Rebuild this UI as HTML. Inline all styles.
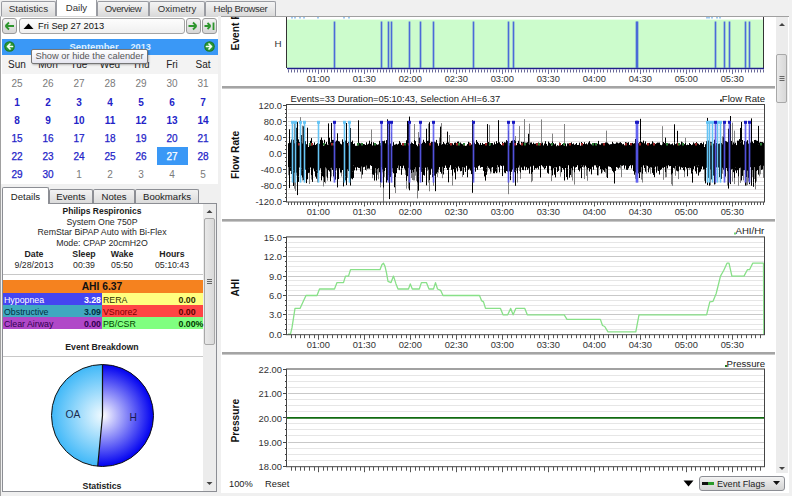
<!DOCTYPE html><html><head><meta charset="utf-8"><style>
*{margin:0;padding:0;box-sizing:border-box}
html,body{width:792px;height:496px;overflow:hidden;background:#f0f0f0;font-family:"Liberation Sans",sans-serif}
.t{position:absolute;line-height:20px;white-space:nowrap}
.b{position:absolute}
</style></head><body>
<div class="b" style="left:1px;top:1px;width:55px;height:15px;background:linear-gradient(#f4f4f4,#e8e8e8 50%,#dadada);border:1px solid #9a9ca2;border-bottom:none;border-radius:2px 2px 0 0"></div>
<div class="t" style="left:-121.5px;width:300px;text-align:center;top:-1.4000000000000004px;font-size:9.9px;font-weight:normal;color:#333;letter-spacing:0px">Statistics</div>
<div class="b" style="left:56px;top:-1px;width:41px;height:18px;background:#fff;border:1px solid #9a9ca2;border-bottom:none;border-top:none"></div>
<div class="t" style="left:-73.5px;width:300px;text-align:center;top:-1.6999999999999993px;font-size:9.6px;font-weight:normal;color:#333;letter-spacing:0px">Daily</div>
<div class="b" style="left:97px;top:1px;width:52px;height:15px;background:linear-gradient(#f4f4f4,#e8e8e8 50%,#dadada);border:1px solid #9a9ca2;border-bottom:none;border-radius:2px 2px 0 0"></div>
<div class="t" style="left:-27.0px;width:300px;text-align:center;top:-1.4000000000000004px;font-size:9.6px;font-weight:normal;color:#333;letter-spacing:-0.45px">Overview</div>
<div class="b" style="left:149px;top:1px;width:56px;height:15px;background:linear-gradient(#f4f4f4,#e8e8e8 50%,#dadada);border:1px solid #9a9ca2;border-bottom:none;border-radius:2px 2px 0 0"></div>
<div class="t" style="left:27.0px;width:300px;text-align:center;top:-1.4000000000000004px;font-size:9.6px;font-weight:normal;color:#333;letter-spacing:0px">Oximetry</div>
<div class="b" style="left:205px;top:1px;width:71px;height:15px;background:linear-gradient(#f4f4f4,#e8e8e8 50%,#dadada);border:1px solid #9a9ca2;border-bottom:none;border-radius:2px 2px 0 0"></div>
<div class="t" style="left:90.5px;width:300px;text-align:center;top:-1.4000000000000004px;font-size:9.6px;font-weight:normal;color:#333;letter-spacing:-0.3px">Help Browser</div>
<div class="b" style="left:0px;top:16px;width:220px;height:480px;background:#fff;border-left:1px solid #a0a0a0;border-top:1px solid #d8d8d8"></div>
<div class="b" style="left:2px;top:18px;width:15px;height:16px;background:linear-gradient(#f4f4f4,#e4e4e4 50%,#d6d6d6);border:1px solid #9a9a9a;border-radius:3px"><svg width="15" height="16" style="position:absolute;left:-1px;top:-1px"><path d="M12 8 H3.5 M3.5 8 L7 4.5 M3.5 8 L7 11.5" stroke="#2e962e" stroke-width="1.8" fill="none"/></svg></div>
<div class="b" style="left:19px;top:18px;width:166px;height:16px;background:linear-gradient(#fdfdfd,#f0f0f0);border:1px solid #a4a4a4;border-radius:3px"></div>
<svg class="b" style="left:22px;top:21px" width="14" height="10"><path d="M1.5 8 L6.5 2.5 L11.5 8 Z" fill="#000"/></svg>
<div class="t" style="left:38px;top:16.4px;font-size:9.3px;font-weight:normal;color:#111;">Fri Sep 27 2013</div>
<div class="b" style="left:186px;top:18px;width:15px;height:16px;background:linear-gradient(#f4f4f4,#e4e4e4 50%,#d6d6d6);border:1px solid #9a9a9a;border-radius:3px"><svg width="15" height="16" style="position:absolute;left:-1px;top:-1px"><path d="M2.5 8 H10.5 M10.5 8 L7 4.5 M10.5 8 L7 11.5" stroke="#2e962e" stroke-width="1.8" fill="none"/></svg></div>
<div class="b" style="left:202px;top:18px;width:15px;height:16px;background:linear-gradient(#f4f4f4,#e4e4e4 50%,#d6d6d6);border:1px solid #9a9a9a;border-radius:3px"><svg width="15" height="16" style="position:absolute;left:-1px;top:-1px"><path d="M2.5 8 H8.5 M8.5 8 L5.5 5 M8.5 8 L5.5 11 M11.5 4.5 V12" stroke="#2e962e" stroke-width="1.8" fill="none"/></svg></div>
<div class="b" style="left:2px;top:39px;width:216px;height:15.5px;background:#3a98f6"></div>
<svg class="b" style="left:2.5px;top:39.8px" width="13" height="13"><circle cx="6.5" cy="6.5" r="5.3" fill="#1d7a25"/><circle cx="6.5" cy="6.5" r="4.2" fill="#2c9a36"/><path d="M9.5 6.5 H4.5 M4.5 6.5 L7 4 M4.5 6.5 L7 9" stroke="#f4fff4" stroke-width="1.7" fill="none" stroke-linecap="round"/></svg>
<svg class="b" style="left:202.5px;top:39.9px" width="13" height="13"><circle cx="6.5" cy="6.5" r="5.3" fill="#1d7a25"/><circle cx="6.5" cy="6.5" r="4.2" fill="#2c9a36"/><path d="M3.5 6.5 H8.5 M8.5 6.5 L6 4 M8.5 6.5 L6 9" stroke="#f4fff4" stroke-width="1.7" fill="none" stroke-linecap="round"/></svg>
<div class="t" style="left:69.5px;top:36.5px;font-size:9.5px;font-weight:bold;color:#dcefff;">September</div>
<div class="t" style="left:130.5px;top:36.5px;font-size:9.2px;font-weight:bold;color:#dcefff;">2013</div>
<div class="b" style="left:2px;top:54.5px;width:216px;height:19px;background:#f3f3f3"></div>
<div class="t" style="left:-133px;width:300px;text-align:center;top:55.3px;font-size:10px;font-weight:normal;color:#222;">Sun</div>
<div class="t" style="left:-102px;width:300px;text-align:center;top:55.3px;font-size:10px;font-weight:normal;color:#222;">Mon</div>
<div class="t" style="left:-71px;width:300px;text-align:center;top:55.3px;font-size:10px;font-weight:normal;color:#222;">Tue</div>
<div class="t" style="left:-40px;width:300px;text-align:center;top:55.3px;font-size:10px;font-weight:normal;color:#222;">Wed</div>
<div class="t" style="left:-9px;width:300px;text-align:center;top:55.3px;font-size:10px;font-weight:normal;color:#222;">Thu</div>
<div class="t" style="left:22px;width:300px;text-align:center;top:55.3px;font-size:10px;font-weight:normal;color:#222;">Fri</div>
<div class="t" style="left:53px;width:300px;text-align:center;top:55.3px;font-size:10px;font-weight:normal;color:#222;">Sat</div>
<div class="b" style="left:157px;top:147px;width:31px;height:18px;background:#3a98f6"></div>
<div class="t" style="left:-133px;width:300px;text-align:center;top:74.4px;font-size:10px;font-weight:normal;color:#7a7a7a;">25</div>
<div class="t" style="left:-102px;width:300px;text-align:center;top:74.4px;font-size:10px;font-weight:normal;color:#7a7a7a;">26</div>
<div class="t" style="left:-71px;width:300px;text-align:center;top:74.4px;font-size:10px;font-weight:normal;color:#7a7a7a;">27</div>
<div class="t" style="left:-40px;width:300px;text-align:center;top:74.4px;font-size:10px;font-weight:normal;color:#7a7a7a;">28</div>
<div class="t" style="left:-9px;width:300px;text-align:center;top:74.4px;font-size:10px;font-weight:normal;color:#7a7a7a;">29</div>
<div class="t" style="left:22px;width:300px;text-align:center;top:74.4px;font-size:10px;font-weight:normal;color:#7a7a7a;">30</div>
<div class="t" style="left:53px;width:300px;text-align:center;top:74.4px;font-size:10px;font-weight:normal;color:#7a7a7a;">31</div>
<div class="t" style="left:-133px;width:300px;text-align:center;top:92.9px;font-size:10px;font-weight:bold;color:#2424c8;">1</div>
<div class="t" style="left:-102px;width:300px;text-align:center;top:92.9px;font-size:10px;font-weight:bold;color:#2424c8;">2</div>
<div class="t" style="left:-71px;width:300px;text-align:center;top:92.9px;font-size:10px;font-weight:bold;color:#2424c8;">3</div>
<div class="t" style="left:-40px;width:300px;text-align:center;top:92.9px;font-size:10px;font-weight:bold;color:#2424c8;">4</div>
<div class="t" style="left:-9px;width:300px;text-align:center;top:92.9px;font-size:10px;font-weight:bold;color:#2424c8;">5</div>
<div class="t" style="left:22px;width:300px;text-align:center;top:92.9px;font-size:10px;font-weight:bold;color:#2424c8;">6</div>
<div class="t" style="left:53px;width:300px;text-align:center;top:92.9px;font-size:10px;font-weight:bold;color:#2424c8;">7</div>
<div class="t" style="left:-133px;width:300px;text-align:center;top:111.0px;font-size:10px;font-weight:bold;color:#2424c8;">8</div>
<div class="t" style="left:-102px;width:300px;text-align:center;top:111.0px;font-size:10px;font-weight:bold;color:#2424c8;">9</div>
<div class="t" style="left:-71px;width:300px;text-align:center;top:111.0px;font-size:10px;font-weight:bold;color:#2424c8;">10</div>
<div class="t" style="left:-40px;width:300px;text-align:center;top:111.0px;font-size:10px;font-weight:bold;color:#2424c8;">11</div>
<div class="t" style="left:-9px;width:300px;text-align:center;top:111.0px;font-size:10px;font-weight:bold;color:#2424c8;">12</div>
<div class="t" style="left:22px;width:300px;text-align:center;top:111.0px;font-size:10px;font-weight:bold;color:#2424c8;">13</div>
<div class="t" style="left:53px;width:300px;text-align:center;top:111.0px;font-size:10px;font-weight:bold;color:#2424c8;">14</div>
<div class="t" style="left:-133px;width:300px;text-align:center;top:129.2px;font-size:10px;font-weight:normal;color:#2424c8;-webkit-text-stroke:0.25px #2424c8">15</div>
<div class="t" style="left:-102px;width:300px;text-align:center;top:129.2px;font-size:10px;font-weight:normal;color:#2424c8;-webkit-text-stroke:0.25px #2424c8">16</div>
<div class="t" style="left:-71px;width:300px;text-align:center;top:129.2px;font-size:10px;font-weight:normal;color:#2424c8;-webkit-text-stroke:0.25px #2424c8">17</div>
<div class="t" style="left:-40px;width:300px;text-align:center;top:129.2px;font-size:10px;font-weight:normal;color:#2424c8;-webkit-text-stroke:0.25px #2424c8">18</div>
<div class="t" style="left:-9px;width:300px;text-align:center;top:129.2px;font-size:10px;font-weight:normal;color:#2424c8;-webkit-text-stroke:0.25px #2424c8">19</div>
<div class="t" style="left:22px;width:300px;text-align:center;top:129.2px;font-size:10px;font-weight:normal;color:#2424c8;-webkit-text-stroke:0.25px #2424c8">20</div>
<div class="t" style="left:53px;width:300px;text-align:center;top:129.2px;font-size:10px;font-weight:normal;color:#2424c8;-webkit-text-stroke:0.25px #2424c8">21</div>
<div class="t" style="left:-133px;width:300px;text-align:center;top:147.2px;font-size:10px;font-weight:normal;color:#2424c8;-webkit-text-stroke:0.25px #2424c8">22</div>
<div class="t" style="left:-102px;width:300px;text-align:center;top:147.2px;font-size:10px;font-weight:normal;color:#2424c8;-webkit-text-stroke:0.25px #2424c8">23</div>
<div class="t" style="left:-71px;width:300px;text-align:center;top:147.2px;font-size:10px;font-weight:normal;color:#2424c8;-webkit-text-stroke:0.25px #2424c8">24</div>
<div class="t" style="left:-40px;width:300px;text-align:center;top:147.2px;font-size:10px;font-weight:normal;color:#2424c8;-webkit-text-stroke:0.25px #2424c8">25</div>
<div class="t" style="left:-9px;width:300px;text-align:center;top:147.2px;font-size:10px;font-weight:normal;color:#2424c8;-webkit-text-stroke:0.25px #2424c8">26</div>
<div class="t" style="left:22px;width:300px;text-align:center;top:147.2px;font-size:10px;font-weight:normal;color:#fff;-webkit-text-stroke:0.25px #fff">27</div>
<div class="t" style="left:53px;width:300px;text-align:center;top:147.2px;font-size:10px;font-weight:normal;color:#2424c8;-webkit-text-stroke:0.25px #2424c8">28</div>
<div class="t" style="left:-133px;width:300px;text-align:center;top:165.4px;font-size:10px;font-weight:normal;color:#2424c8;-webkit-text-stroke:0.25px #2424c8">29</div>
<div class="t" style="left:-102px;width:300px;text-align:center;top:165.4px;font-size:10px;font-weight:normal;color:#2424c8;-webkit-text-stroke:0.25px #2424c8">30</div>
<div class="t" style="left:-71px;width:300px;text-align:center;top:165.4px;font-size:10px;font-weight:normal;color:#7a7a7a;">1</div>
<div class="t" style="left:-40px;width:300px;text-align:center;top:165.4px;font-size:10px;font-weight:normal;color:#7a7a7a;">2</div>
<div class="t" style="left:-9px;width:300px;text-align:center;top:165.4px;font-size:10px;font-weight:normal;color:#7a7a7a;">3</div>
<div class="t" style="left:22px;width:300px;text-align:center;top:165.4px;font-size:10px;font-weight:normal;color:#7a7a7a;">4</div>
<div class="t" style="left:53px;width:300px;text-align:center;top:165.4px;font-size:10px;font-weight:normal;color:#7a7a7a;">5</div>
<div class="b" style="left:31px;top:48.5px;width:117px;height:15px;background:linear-gradient(#ffffff,#e6e6f0);border:1px solid #767676;border-radius:2px;box-shadow:1px 1px 2px rgba(0,0,0,.25)"></div>
<div class="t" style="left:35.5px;top:45.8px;font-size:9.3px;font-weight:normal;color:#575757;">Show or hide the calender</div>
<div class="b" style="left:1px;top:184px;width:219px;height:312px;background:#f0f0f0"></div>
<div class="b" style="left:2px;top:187px;width:47px;height:17px;background:#fff;border:1px solid #8c8e94;border-bottom:none;border-radius:2px 2px 0 0;z-index:2"></div>
<div class="t" style="left:2px;width:47px;text-align:center;top:187px;font-size:9.6px;color:#222;z-index:3">Details</div>
<div class="b" style="left:49px;top:189px;width:44px;height:15px;background:linear-gradient(#f2f2f2,#e6e6e6 50%,#d9d9d9);border:1px solid #8c8e94;border-bottom:none;border-radius:2px 2px 0 0"></div>
<div class="t" style="left:49px;width:44px;text-align:center;top:187px;font-size:9.6px;color:#222">Events</div>
<div class="b" style="left:93px;top:189px;width:42px;height:15px;background:linear-gradient(#f2f2f2,#e6e6e6 50%,#d9d9d9);border:1px solid #8c8e94;border-bottom:none;border-radius:2px 2px 0 0"></div>
<div class="t" style="left:93px;width:42px;text-align:center;top:187px;font-size:9.6px;color:#222">Notes</div>
<div class="b" style="left:135px;top:189px;width:64px;height:15px;background:linear-gradient(#f2f2f2,#e6e6e6 50%,#d9d9d9);border:1px solid #8c8e94;border-bottom:none;border-radius:2px 2px 0 0"></div>
<div class="t" style="left:135px;width:64px;text-align:center;top:187px;font-size:9.6px;color:#222">Bookmarks</div>
<div class="b" style="left:2px;top:203px;width:215px;height:289px;background:#fff;border:1px solid #8c8e94"></div>
<div class="b" style="left:203px;top:204px;width:13px;height:287px;background:#ececec"></div>
<svg class="b" style="left:205px;top:207px" width="9" height="8"><path d="M1.5 6 L4.5 3 L7.5 6Z" fill="#444"/></svg>
<div class="b" style="left:204px;top:218px;width:11px;height:127px;background:linear-gradient(90deg,#e8e8e8,#dadada);border:1px solid #a8a8a8;border-radius:2px"></div>
<svg class="b" style="left:205px;top:278px" width="9" height="7"><path d="M2 1.5H7M2 3.5H7M2 5.5H7" stroke="#666" stroke-width="1"/></svg>
<svg class="b" style="left:205px;top:480px" width="9" height="8"><path d="M1.5 2 L4.5 5 L7.5 2Z" fill="#444"/></svg>
<div class="t" style="left:-48px;width:300px;text-align:center;top:200.5px;font-size:8.5px;font-weight:bold;color:#1a1a1a;">Philips Respironics</div>
<div class="t" style="left:-48px;width:300px;text-align:center;top:211.5px;font-size:8.75px;font-weight:normal;color:#262626;">System One 750P</div>
<div class="t" style="left:-48px;width:300px;text-align:center;top:222.0px;font-size:8.75px;font-weight:normal;color:#262626;">RemStar BiPAP Auto with Bi-Flex</div>
<div class="t" style="left:-48px;width:300px;text-align:center;top:233.0px;font-size:8.75px;font-weight:normal;color:#262626;">Mode: CPAP 20cmH2O</div>
<div class="t" style="left:-116px;width:300px;text-align:center;top:243.5px;font-size:8.75px;font-weight:bold;color:#222;">Date</div>
<div class="t" style="left:-66px;width:300px;text-align:center;top:243.5px;font-size:8.75px;font-weight:bold;color:#222;">Sleep</div>
<div class="t" style="left:-28px;width:300px;text-align:center;top:243.5px;font-size:8.75px;font-weight:bold;color:#222;">Wake</div>
<div class="t" style="left:22px;width:300px;text-align:center;top:243.5px;font-size:8.75px;font-weight:bold;color:#222;">Hours</div>
<div class="t" style="left:-116px;width:300px;text-align:center;top:254.7px;font-size:8.75px;font-weight:normal;color:#262626;">9/28/2013</div>
<div class="t" style="left:-66px;width:300px;text-align:center;top:254.7px;font-size:8.75px;font-weight:normal;color:#262626;">00:39</div>
<div class="t" style="left:-28px;width:300px;text-align:center;top:254.7px;font-size:8.75px;font-weight:normal;color:#262626;">05:50</div>
<div class="t" style="left:22px;width:300px;text-align:center;top:254.7px;font-size:8.75px;font-weight:normal;color:#262626;">05:10:43</div>
<div class="b" style="left:3px;top:274px;width:200px;height:1px;background:#c8c8c8"></div>
<div class="b" style="left:3px;top:280px;width:200px;height:13px;background:#f5821f"></div>
<div class="t" style="left:-48px;width:300px;text-align:center;top:276.5px;font-size:10.3px;font-weight:bold;color:#111;">AHI 6.37</div>
<div class="b" style="left:3px;top:293px;width:99px;height:12px;background:#4545f0"></div>
<div class="b" style="left:102px;top:293px;width:101px;height:12px;background:#ffff80"></div>
<div class="t" style="left:4px;top:289.6px;font-size:8.8px;font-weight:normal;color:#fff;">Hypopnea</div>
<div class="t" style="right:691px;top:289.6px;font-size:8.8px;font-weight:bold;color:#fff;">3.28</div>
<div class="t" style="left:103px;top:289.6px;font-size:8.8px;font-weight:normal;color:#303000;">RERA</div>
<div class="t" style="left:178.5px;top:289.6px;font-size:8.8px;font-weight:bold;color:#303000;">0.00</div>
<div class="b" style="left:3px;top:305px;width:99px;height:12px;background:#40a8c0"></div>
<div class="b" style="left:102px;top:305px;width:101px;height:12px;background:#ff4545"></div>
<div class="t" style="left:4px;top:301.6px;font-size:8.8px;font-weight:normal;color:#003040;">Obstructive</div>
<div class="t" style="right:691px;top:301.6px;font-size:8.8px;font-weight:bold;color:#003040;">3.09</div>
<div class="t" style="left:103px;top:301.6px;font-size:8.8px;font-weight:normal;color:#800000;">VSnore2</div>
<div class="t" style="left:178.5px;top:301.6px;font-size:8.8px;font-weight:bold;color:#600000;">0.00</div>
<div class="b" style="left:3px;top:317px;width:99px;height:12px;background:#b048c8"></div>
<div class="b" style="left:102px;top:317px;width:101px;height:12px;background:#80ff80"></div>
<div class="t" style="left:4px;top:313.6px;font-size:8.8px;font-weight:normal;color:#300050;">Clear Airway</div>
<div class="t" style="right:691px;top:313.6px;font-size:8.8px;font-weight:bold;color:#300050;">0.00</div>
<div class="t" style="left:103px;top:313.6px;font-size:8.8px;font-weight:normal;color:#004400;">PB/CSR</div>
<div class="t" style="left:178.5px;top:313.6px;font-size:8.8px;font-weight:bold;color:#003800;">0.00%</div>
<div class="t" style="left:-48px;width:300px;text-align:center;top:336.8px;font-size:8.75px;font-weight:bold;color:#222;">Event Breakdown</div>
<div class="b" style="left:3px;top:356px;width:200px;height:1px;background:#c8c8c8"></div>
<div class="t" style="left:-48px;width:300px;text-align:center;top:476.0px;font-size:8.75px;font-weight:bold;color:#222;">Statistics</div>
<svg class="b" style="left:0;top:0" width="220" height="496">
<defs>
<radialGradient id="gH" cx="102.5" cy="415.5" r="51" gradientUnits="userSpaceOnUse"><stop offset="0" stop-color="#ffffff"/><stop offset="1" stop-color="#0000f0"/></radialGradient>
<radialGradient id="gO" cx="102.5" cy="415.5" r="51" gradientUnits="userSpaceOnUse"><stop offset="0" stop-color="#f0faff"/><stop offset="1" stop-color="#40b8f8"/></radialGradient>
</defs>
<path d="M102.5 415.5 L102.5 364.5 A51 51 0 1 1 97.70 466.27 Z" fill="url(#gH)"/>
<path d="M102.5 415.5 L97.70 466.27 A51 51 0 0 1 102.5 364.5 Z" fill="url(#gO)"/>
<circle cx="102.5" cy="415.5" r="51" fill="none" stroke="#111" stroke-width="1"/>
<path d="M102.5 364.5 L102.5 415.5 L97.70 466.27" fill="none" stroke="#111" stroke-width="1.2"/>
</svg>
<div class="t" style="left:65.5px;top:404.5px;font-size:10.3px;font-weight:normal;color:#1a2a50;">OA</div>
<div class="t" style="left:129.5px;top:407.6px;font-size:10.3px;font-weight:normal;color:#1a1a50;">H</div>
<div class="b" style="left:218px;top:16px;width:3px;height:480px;background:#f0f0f0"></div>
<div class="b" style="left:221px;top:16px;width:568px;height:477px;background:#fff;border-top:1px solid #a0a0a0"></div>
<div class="b" style="left:776px;top:17px;width:12px;height:456px;background:#ececec"></div>
<svg class="b" style="left:777px;top:20px" width="10" height="8"><path d="M2 6 L5 3 L8 6Z" fill="#444"/></svg>
<div class="b" style="left:776px;top:53.5px;width:11px;height:49px;background:linear-gradient(90deg,#e8e8e8,#d8d8d8);border:1px solid #a8a8a8;border-radius:2px"></div>
<svg class="b" style="left:776.5px;top:75px" width="10" height="7"><path d="M2.5 1.5H7.5M2.5 3.5H7.5M2.5 5.5H7.5" stroke="#666" stroke-width="1"/></svg>
<svg class="b" style="left:777px;top:465px" width="10" height="8"><path d="M2 2 L5 5 L8 2Z" fill="#444"/></svg>
<div class="b" style="left:221px;top:17px;width:555px;height:476px;overflow:hidden"><svg style="position:absolute;left:-221px;top:-17px" width="792" height="496"><rect x="287" y="19.6" width="477" height="48.4" fill="#ccfccc"/><path d="M286.5 17 V68" stroke="#333" stroke-width="1" fill="none"/><path d="M763.5 17 V68" stroke="#333" stroke-width="1" fill="none"/><path d="M287 68.5 H764" stroke="#20208a" stroke-width="1.6" fill="none"/><path d="M334.5 21.5 V68" stroke="#4a6ad8" stroke-width="1.7"/><path d="M381.5 21.5 V68" stroke="#4a6ad8" stroke-width="1.7"/><path d="M388.5 21.5 V68" stroke="#4a6ad8" stroke-width="1.7"/><path d="M391.5 21.5 V68" stroke="#4a6ad8" stroke-width="1.7"/><path d="M409.5 21.5 V68" stroke="#4a6ad8" stroke-width="1.7"/><path d="M420.5 21.5 V68" stroke="#4a6ad8" stroke-width="1.7"/><path d="M433.5 21.5 V68" stroke="#4a6ad8" stroke-width="1.7"/><path d="M473.5 21.5 V68" stroke="#4a6ad8" stroke-width="1.7"/><path d="M508.5 21.5 V68" stroke="#4a6ad8" stroke-width="1.7"/><path d="M513.5 21.5 V68" stroke="#4a6ad8" stroke-width="1.7"/><path d="M636.5 21.5 V68" stroke="#4a6ad8" stroke-width="1.7"/><path d="M637.5 21.5 V68" stroke="#4a6ad8" stroke-width="1.7"/><path d="M715.5 21.5 V68" stroke="#4a6ad8" stroke-width="1.7"/><path d="M724.5 21.5 V68" stroke="#4a6ad8" stroke-width="1.7"/><path d="M729.5 21.5 V68" stroke="#4a6ad8" stroke-width="1.7"/><path d="M745.5 21.5 V68" stroke="#4a6ad8" stroke-width="1.7"/><path d="M749.5 21.5 V68" stroke="#4a6ad8" stroke-width="1.7"/><rect x="291" y="17" width="2" height="1.5" fill="#9cc8f0"/><rect x="294" y="17" width="2" height="1.5" fill="#9cc8f0"/><rect x="299" y="17" width="2" height="1.5" fill="#9cc8f0"/><rect x="303" y="17" width="2" height="1.5" fill="#9cc8f0"/><rect x="317" y="17" width="2" height="1.5" fill="#9cc8f0"/><rect x="343" y="17" width="2" height="1.5" fill="#9cc8f0"/><rect x="348" y="17" width="2" height="1.5" fill="#9cc8f0"/><rect x="706" y="17" width="2" height="1.5" fill="#9cc8f0"/><rect x="708" y="17" width="2" height="1.5" fill="#9cc8f0"/><rect x="711" y="17" width="2" height="1.5" fill="#9cc8f0"/><rect x="716" y="17" width="2" height="1.5" fill="#9cc8f0"/><rect x="719" y="17" width="2" height="1.5" fill="#9cc8f0"/><path d="M288.5 69.5 v3 M291.5 69.5 v3 M294.5 69.5 v3 M297.5 69.5 v3 M300.5 69.5 v3 M303.5 69.5 v3 M306.5 69.5 v3 M309.5 69.5 v3 M312.5 69.5 v3 M315.5 69.5 v3 M318.5 69.5 v4.5 M321.5 69.5 v3 M324.5 69.5 v3 M327.5 69.5 v3 M331.5 69.5 v3 M334.5 69.5 v3 M337.5 69.5 v3 M340.5 69.5 v3 M343.5 69.5 v3 M346.5 69.5 v3 M349.5 69.5 v3 M352.5 69.5 v3 M355.5 69.5 v3 M358.5 69.5 v3 M361.5 69.5 v3 M364.5 69.5 v4.5 M367.5 69.5 v3 M370.5 69.5 v3 M373.5 69.5 v3 M377.5 69.5 v3 M380.5 69.5 v3 M383.5 69.5 v3 M386.5 69.5 v3 M389.5 69.5 v3 M392.5 69.5 v3 M395.5 69.5 v3 M398.5 69.5 v3 M401.5 69.5 v3 M404.5 69.5 v3 M407.5 69.5 v3 M410.5 69.5 v4.5 M413.5 69.5 v3 M416.5 69.5 v3 M419.5 69.5 v3 M423.5 69.5 v3 M426.5 69.5 v3 M429.5 69.5 v3 M432.5 69.5 v3 M435.5 69.5 v3 M438.5 69.5 v3 M441.5 69.5 v3 M444.5 69.5 v3 M447.5 69.5 v3 M450.5 69.5 v3 M453.5 69.5 v3 M456.5 69.5 v4.5 M459.5 69.5 v3 M462.5 69.5 v3 M465.5 69.5 v3 M469.5 69.5 v3 M472.5 69.5 v3 M475.5 69.5 v3 M478.5 69.5 v3 M481.5 69.5 v3 M484.5 69.5 v3 M487.5 69.5 v3 M490.5 69.5 v3 M493.5 69.5 v3 M496.5 69.5 v3 M499.5 69.5 v3 M502.5 69.5 v4.5 M505.5 69.5 v3 M508.5 69.5 v3 M511.5 69.5 v3 M515.5 69.5 v3 M518.5 69.5 v3 M521.5 69.5 v3 M524.5 69.5 v3 M527.5 69.5 v3 M530.5 69.5 v3 M533.5 69.5 v3 M536.5 69.5 v3 M539.5 69.5 v3 M542.5 69.5 v3 M545.5 69.5 v3 M548.5 69.5 v4.5 M551.5 69.5 v3 M554.5 69.5 v3 M557.5 69.5 v3 M561.5 69.5 v3 M564.5 69.5 v3 M567.5 69.5 v3 M570.5 69.5 v3 M573.5 69.5 v3 M576.5 69.5 v3 M579.5 69.5 v3 M582.5 69.5 v3 M585.5 69.5 v3 M588.5 69.5 v3 M591.5 69.5 v3 M594.5 69.5 v4.5 M597.5 69.5 v3 M600.5 69.5 v3 M603.5 69.5 v3 M607.5 69.5 v3 M610.5 69.5 v3 M613.5 69.5 v3 M616.5 69.5 v3 M619.5 69.5 v3 M622.5 69.5 v3 M625.5 69.5 v3 M628.5 69.5 v3 M631.5 69.5 v3 M634.5 69.5 v3 M637.5 69.5 v3 M640.5 69.5 v4.5 M643.5 69.5 v3 M646.5 69.5 v3 M649.5 69.5 v3 M653.5 69.5 v3 M656.5 69.5 v3 M659.5 69.5 v3 M662.5 69.5 v3 M665.5 69.5 v3 M668.5 69.5 v3 M671.5 69.5 v3 M674.5 69.5 v3 M677.5 69.5 v3 M680.5 69.5 v3 M683.5 69.5 v3 M686.5 69.5 v4.5 M689.5 69.5 v3 M692.5 69.5 v3 M695.5 69.5 v3 M699.5 69.5 v3 M702.5 69.5 v3 M705.5 69.5 v3 M708.5 69.5 v3 M711.5 69.5 v3 M714.5 69.5 v3 M717.5 69.5 v3 M720.5 69.5 v3 M723.5 69.5 v3 M726.5 69.5 v3 M729.5 69.5 v3 M732.5 69.5 v4.5 M735.5 69.5 v3 M738.5 69.5 v3 M741.5 69.5 v3 M745.5 69.5 v3 M748.5 69.5 v3 M751.5 69.5 v3 M754.5 69.5 v3 M757.5 69.5 v3 M760.5 69.5 v3 M763.5 69.5 v3" stroke="#6a6a9a" stroke-width="1"/><text x="318.3" y="82.4" text-anchor="middle" font-size="9.3" fill="#333">01:00</text><text x="364.3" y="82.4" text-anchor="middle" font-size="9.3" fill="#333">01:30</text><text x="410.3" y="82.4" text-anchor="middle" font-size="9.3" fill="#333">02:00</text><text x="456.3" y="82.4" text-anchor="middle" font-size="9.3" fill="#333">02:30</text><text x="502.3" y="82.4" text-anchor="middle" font-size="9.3" fill="#333">03:00</text><text x="548.3" y="82.4" text-anchor="middle" font-size="9.3" fill="#333">03:30</text><text x="594.3" y="82.4" text-anchor="middle" font-size="9.3" fill="#333">04:00</text><text x="640.3" y="82.4" text-anchor="middle" font-size="9.3" fill="#333">04:30</text><text x="686.3" y="82.4" text-anchor="middle" font-size="9.3" fill="#333">05:00</text><text x="732.3" y="82.4" text-anchor="middle" font-size="9.3" fill="#333">05:30</text><text x="281.5" y="46.8" text-anchor="end" font-size="9.8" fill="#333">H</text><rect x="222" y="86" width="553" height="2.6" fill="#a4a4a4"/><text x="290.5" y="101.8" font-size="9.4" fill="#222">Events=33 Duration=05:10:43, Selection AHI=6.37</text><text x="765" y="102" text-anchor="end" font-size="9.6" fill="#222">Flow Rate</text><rect x="720" y="99.5" width="2" height="2" fill="#333"/><path d="M288 197.5 H764 M288 193.5 H764 M288 189.5 H764 M288 181.5 H764 M288 177.5 H764 M288 173.5 H764 M288 165.5 H764 M288 161.5 H764 M288 157.5 H764 M288 149.5 H764 M288 145.5 H764 M288 141.5 H764 M288 133.5 H764 M288 129.5 H764 M288 125.5 H764 M288 117.5 H764 M288 113.5 H764 M288 109.5 H764" stroke="#e8e4e4" stroke-width="1"/><path d="M288 185.5 H764 M288 169.5 H764 M288 153.5 H764 M288 137.5 H764 M288 121.5 H764" stroke="#cfcfcf" stroke-width="1"/><path d="M283 201.5 h4 M285 197.5 h2 M285 193.5 h2 M285 189.5 h2 M283 185.5 h4 M285 181.5 h2 M285 177.5 h2 M285 173.5 h2 M283 169.5 h4 M285 165.5 h2 M285 161.5 h2 M285 157.5 h2 M283 153.5 h4 M285 149.5 h2 M285 145.5 h2 M285 141.5 h2 M283 137.5 h4 M285 133.5 h2 M285 129.5 h2 M285 125.5 h2 M283 121.5 h4 M285 117.5 h2 M285 113.5 h2 M285 109.5 h2 M283 105.5 h4" stroke="#444" stroke-width="1"/><text x="282" y="205.1" text-anchor="end" font-size="9.4" fill="#333">-120.0</text><text x="282" y="189.0" text-anchor="end" font-size="9.4" fill="#333">-80.0</text><text x="282" y="172.9" text-anchor="end" font-size="9.4" fill="#333">-40.0</text><text x="282" y="156.8" text-anchor="end" font-size="9.4" fill="#333">0.0</text><text x="282" y="140.8" text-anchor="end" font-size="9.4" fill="#333">40.0</text><text x="282" y="124.7" text-anchor="end" font-size="9.4" fill="#333">80.0</text><text x="282" y="108.6" text-anchor="end" font-size="9.4" fill="#333">120.0</text><path d="M288.5 167.3 V175.2 M289.5 168.5 V179.3 M294.5 123.1 V188.7 M294.5 172.7 V184.4 M295.5 179.2 V191.0 M296.5 172.8 V175.6 M300.5 117.1 V139.2 M302.5 125.7 V180.5 M303.5 168.5 V170.8 M309.5 172.8 V184.0 M311.5 175.4 V179.6 M317.5 173.0 V182.3 M323.5 177.5 V186.4 M325.5 167.6 V183.4 M326.5 168.7 V176.6 M327.5 177.9 V180.7 M331.5 167.9 V176.6 M334.5 168.7 V171.9 M336.5 168.3 V170.3 M337.5 173.8 V184.0 M341.5 172.7 V176.5 M346.5 167.4 V176.6 M347.5 169.5 V177.9 M361.5 166.7 V178.6 M366.5 165.7 V170.7 M371.5 129.5 V141.9 M372.5 174.5 V178.2 M375.5 168.1 V172.9 M377.5 169.2 V174.7 M378.5 168.0 V179.3 M380.5 182.3 V187.4 M382.5 169.6 V172.4 M383.5 187.7 V202.8 M384.5 171.0 V176.9 M389.5 177.7 V183.2 M391.5 132.4 V141.2 M392.5 168.5 V171.9 M395.5 177.2 V193.1 M398.5 165.7 V169.7 M405.5 170.6 V174.9 M406.5 180.9 V188.7 M408.5 122.6 V188.6 M409.5 168.8 V184.0 M411.5 173.0 V178.1 M412.5 170.2 V180.0 M413.5 172.5 V180.4 M414.5 124.1 V180.4 M415.5 167.5 V175.7 M416.5 171.8 V180.9 M417.5 182.6 V198.4 M418.5 132.1 V143.8 M426.5 175.6 V185.8 M427.5 167.5 V170.8 M428.5 123.7 V182.6 M429.5 127.5 V191.3 M433.5 176.2 V186.0 M437.5 172.0 V177.0 M438.5 169.6 V172.8 M439.5 137.3 V143.1 M441.5 123.1 V144.6 M442.5 166.9 V178.2 M449.5 135.0 V143.8 M452.5 175.8 V185.5 M462.5 167.2 V176.9 M472.5 174.8 V182.7 M487.5 166.3 V171.6 M489.5 124.9 V145.6 M490.5 171.6 V173.7 M491.5 167.8 V172.4 M497.5 165.1 V172.5 M508.5 179.3 V194.2 M515.5 136.1 V141.1 M516.5 168.1 V170.8 M517.5 173.6 V182.5 M519.5 126.1 V143.5 M519.5 165.7 V171.1 M520.5 172.7 V178.8 M524.5 119.1 V142.6 M529.5 123.7 V144.5 M531.5 174.1 V182.2 M532.5 172.1 V180.8 M541.5 119.4 V143.3 M551.5 170.6 V181.2 M552.5 133.6 V141.4 M560.5 166.8 V176.7 M564.5 124.0 V146.0 M571.5 168.3 V177.1 M572.5 170.5 V180.6 M574.5 172.5 V184.6 M583.5 165.4 V167.6 M584.5 167.5 V179.1 M586.5 167.3 V175.8 M587.5 169.7 V180.8 M598.5 167.7 V175.4 M602.5 169.4 V172.4 M605.5 168.3 V172.7 M606.5 130.6 V142.3 M606.5 169.0 V177.1 M620.5 165.0 V168.6 M621.5 165.9 V177.2 M635.5 172.6 V178.8 M641.5 167.3 V179.6 M642.5 173.8 V182.5 M646.5 165.7 V173.5 M650.5 167.0 V173.8 M657.5 166.6 V170.5 M662.5 126.2 V144.2 M663.5 168.4 V179.8 M665.5 172.1 V177.4 M666.5 165.9 V177.2 M671.5 174.7 V184.3 M672.5 173.5 V185.9 M675.5 166.0 V175.8 M678.5 171.5 V179.1 M684.5 171.6 V177.2 M685.5 137.8 V143.0 M689.5 167.8 V170.1 M704.5 169.5 V180.9 M710.5 169.7 V185.2 M715.5 175.9 V184.2 M722.5 136.4 V144.2 M722.5 167.9 V173.7 M723.5 121.4 V137.1 M727.5 171.4 V185.6 M732.5 122.6 V181.6 M732.5 168.9 V178.4 M734.5 130.6 V184.1 M738.5 176.6 V185.9 M740.5 167.8 V182.9 M743.5 170.5 V180.4 M746.5 177.0 V185.8 M747.5 170.8 V185.2 M748.5 177.9 V181.5 M752.5 170.1 V177.1 M754.5 167.3 V179.0 M755.5 182.9 V189.3 M756.5 171.1 V181.6 M759.5 166.2 V176.4 M760.5 165.4 V174.3 M763.5 165.9 V177.9" stroke="#808080" stroke-width="1"/><path d="M288.5 143.2 V167.3 M289.5 129.3 V188.1 M289.5 144.1 V168.5 M290.5 142.6 V167.3 M290.5 167.3 V170.9 M291.5 139.5 V171.2 M291.5 171.2 V174.0 M292.5 141.0 V174.3 M293.5 139.8 V170.3 M293.5 170.3 V186.0 M294.5 143.3 V172.7 M295.5 144.6 V179.2 M296.5 127.8 V141.6 M296.5 141.6 V172.8 M297.5 122.1 V195.1 M297.5 138.9 V174.7 M298.5 139.4 V176.7 M298.5 176.7 V181.9 M299.5 142.0 V167.5 M300.5 139.2 V167.8 M301.5 135.0 V141.2 M301.5 141.2 V168.7 M301.5 168.7 V175.4 M302.5 143.5 V170.4 M302.5 170.4 V177.5 M303.5 126.3 V180.2 M303.5 139.8 V168.5 M304.5 141.5 V167.4 M305.5 141.2 V169.7 M306.5 144.2 V183.1 M307.5 127.7 V179.3 M307.5 140.1 V167.6 M308.5 147.0 V168.1 M308.5 168.1 V172.9 M309.5 143.2 V172.8 M310.5 140.8 V167.5 M311.5 138.1 V175.4 M312.5 144.6 V181.9 M313.5 144.8 V168.6 M314.5 142.4 V171.4 M315.5 145.0 V176.7 M316.5 144.1 V170.5 M316.5 170.5 V178.7 M317.5 143.1 V173.0 M318.5 140.6 V168.7 M319.5 143.8 V170.4 M320.5 139.8 V168.4 M321.5 137.5 V172.3 M321.5 172.3 V180.4 M322.5 140.3 V176.2 M323.5 145.9 V177.5 M324.5 139.8 V170.0 M324.5 170.0 V182.1 M325.5 143.8 V167.6 M326.5 141.9 V168.7 M327.5 144.7 V177.9 M328.5 123.4 V144.6 M328.5 144.6 V170.2 M329.5 137.7 V171.5 M330.5 142.3 V168.6 M330.5 168.6 V181.3 M331.5 122.9 V141.8 M331.5 141.8 V167.9 M332.5 139.9 V169.9 M333.5 139.9 V176.5 M334.5 142.5 V168.7 M335.5 141.7 V171.4 M335.5 171.4 V179.6 M336.5 140.6 V168.3 M337.5 133.3 V187.4 M337.5 137.3 V142.7 M337.5 142.7 V173.8 M338.5 141.1 V179.1 M339.5 141.6 V168.4 M340.5 143.6 V172.6 M341.5 144.4 V172.7 M342.5 139.4 V170.0 M343.5 142.0 V174.1 M343.5 174.1 V186.4 M344.5 141.8 V171.0 M345.5 140.6 V176.4 M345.5 176.4 V180.4 M346.5 123.0 V185.1 M346.5 141.7 V167.4 M347.5 143.0 V169.5 M348.5 141.8 V171.1 M349.5 143.0 V167.9 M350.5 128.0 V185.5 M350.5 143.8 V171.1 M350.5 171.1 V178.0 M351.5 142.0 V178.5 M352.5 140.6 V171.3 M352.5 171.3 V179.3 M353.5 144.0 V165.6 M353.5 165.6 V177.9 M354.5 143.4 V170.4 M355.5 145.9 V167.5 M356.5 145.9 V170.5 M357.5 145.4 V167.2 M358.5 120.3 V142.9 M358.5 142.9 V167.9 M359.5 142.9 V168.1 M360.5 143.4 V171.6 M361.5 142.9 V166.7 M362.5 144.0 V174.6 M363.5 144.0 V167.3 M364.5 144.2 V166.8 M365.5 145.0 V169.9 M366.5 142.3 V165.7 M367.5 144.5 V168.8 M368.5 143.7 V168.5 M369.5 140.7 V168.7 M370.5 143.8 V165.2 M371.5 141.9 V166.0 M372.5 145.5 V174.5 M373.5 142.3 V174.8 M374.5 143.6 V170.0 M374.5 170.0 V180.6 M375.5 145.0 V168.1 M376.5 144.2 V170.1 M376.5 170.1 V180.5 M377.5 144.8 V169.2 M378.5 144.3 V168.0 M379.5 140.9 V172.3 M380.5 143.5 V182.3 M381.5 140.7 V167.1 M382.5 140.9 V169.6 M383.5 141.2 V187.7 M384.5 140.6 V171.0 M385.5 143.3 V167.9 M386.5 140.1 V168.0 M386.5 168.0 V182.5 M387.5 119.3 V180.3 M387.5 142.1 V168.7 M388.5 144.7 V169.2 M388.5 169.2 V175.0 M389.5 123.2 V199.1 M389.5 138.8 V177.7 M390.5 143.5 V176.9 M391.5 141.2 V172.2 M391.5 172.2 V175.1 M392.5 146.1 V168.5 M393.5 142.2 V173.2 M394.5 144.8 V174.9 M394.5 174.9 V187.3 M395.5 144.4 V177.2 M396.5 143.8 V173.1 M397.5 144.6 V168.1 M398.5 143.8 V165.7 M399.5 141.1 V170.2 M400.5 142.6 V166.1 M401.5 144.8 V168.7 M401.5 168.7 V174.8 M402.5 143.8 V168.3 M403.5 143.6 V165.7 M404.5 143.9 V168.6 M405.5 143.6 V170.6 M406.5 140.2 V180.9 M407.5 120.9 V143.1 M407.5 143.1 V176.2 M408.5 124.0 V140.8 M408.5 140.8 V167.9 M409.5 116.6 V190.3 M409.5 137.5 V168.8 M410.5 143.8 V169.7 M411.5 142.4 V173.0 M412.5 143.1 V170.2 M413.5 144.0 V172.5 M414.5 140.0 V169.1 M415.5 141.1 V167.5 M416.5 144.8 V171.8 M417.5 146.2 V182.6 M418.5 143.8 V176.1 M418.5 176.1 V190.7 M419.5 137.5 V167.2 M420.5 142.5 V170.2 M421.5 143.8 V171.9 M422.5 142.7 V168.9 M422.5 168.9 V182.1 M423.5 139.8 V174.9 M424.5 141.9 V175.6 M425.5 143.1 V167.7 M426.5 128.7 V185.1 M426.5 142.4 V175.6 M427.5 140.9 V167.5 M428.5 140.7 V169.7 M429.5 122.2 V142.0 M429.5 142.0 V180.0 M430.5 142.9 V174.8 M431.5 141.8 V168.8 M432.5 141.9 V173.7 M432.5 173.7 V177.2 M433.5 142.0 V176.2 M434.5 141.7 V175.6 M435.5 142.3 V176.9 M435.5 176.9 V191.2 M436.5 139.9 V173.7 M437.5 143.3 V172.0 M438.5 145.8 V169.6 M439.5 143.1 V167.1 M440.5 126.6 V142.9 M440.5 142.9 V171.9 M441.5 144.6 V173.6 M442.5 144.1 V166.9 M443.5 142.0 V171.3 M443.5 171.3 V174.4 M444.5 143.5 V168.0 M445.5 144.4 V165.5 M446.5 142.8 V167.9 M447.5 131.6 V144.5 M447.5 144.5 V170.0 M448.5 142.4 V170.8 M448.5 170.8 V182.3 M449.5 143.8 V167.5 M450.5 144.9 V165.1 M451.5 144.1 V169.8 M452.5 143.3 V175.8 M453.5 144.8 V169.1 M454.5 142.8 V172.5 M455.5 142.5 V167.6 M455.5 167.6 V179.4 M456.5 143.8 V168.4 M457.5 141.7 V171.4 M458.5 141.5 V166.5 M459.5 142.9 V168.3 M460.5 142.5 V171.3 M461.5 143.7 V170.9 M462.5 144.2 V167.2 M463.5 143.9 V167.2 M463.5 167.2 V174.9 M464.5 143.1 V167.6 M465.5 146.0 V171.9 M466.5 145.6 V165.8 M467.5 144.1 V171.1 M467.5 171.1 V177.3 M468.5 141.8 V169.7 M469.5 142.6 V168.7 M470.5 143.8 V170.5 M471.5 144.5 V174.1 M472.5 120.4 V192.8 M472.5 140.9 V174.8 M473.5 139.9 V179.3 M474.5 142.6 V167.3 M475.5 144.1 V171.7 M476.5 140.0 V167.8 M477.5 141.9 V169.8 M478.5 143.2 V166.2 M479.5 144.7 V165.4 M480.5 142.9 V167.8 M481.5 144.9 V167.0 M482.5 142.9 V167.0 M483.5 144.1 V170.9 M484.5 144.0 V176.5 M485.5 144.4 V172.5 M485.5 172.5 V180.6 M486.5 144.1 V168.6 M486.5 168.6 V174.8 M487.5 124.1 V142.8 M487.5 142.8 V166.3 M488.5 142.0 V167.8 M489.5 145.6 V168.8 M490.5 144.9 V171.6 M491.5 143.0 V167.8 M492.5 143.1 V167.1 M493.5 144.7 V173.2 M494.5 142.3 V173.3 M495.5 144.1 V171.5 M496.5 141.2 V168.5 M496.5 168.5 V173.1 M497.5 143.1 V165.1 M498.5 120.2 V141.2 M498.5 141.2 V167.2 M499.5 142.3 V172.4 M500.5 144.0 V165.4 M501.5 145.1 V166.1 M502.5 141.9 V176.1 M503.5 143.8 V165.7 M504.5 142.2 V172.6 M505.5 142.5 V173.2 M506.5 140.1 V171.0 M507.5 141.1 V171.6 M508.5 130.6 V141.3 M508.5 141.3 V179.3 M509.5 144.3 V171.4 M510.5 142.7 V175.7 M510.5 175.7 V180.2 M511.5 140.9 V171.8 M512.5 140.5 V169.5 M513.5 143.0 V167.7 M514.5 140.0 V172.2 M515.5 141.1 V170.3 M515.5 170.3 V185.8 M516.5 145.2 V168.1 M517.5 143.0 V173.6 M518.5 140.8 V167.6 M519.5 143.5 V165.7 M520.5 144.7 V172.7 M521.5 141.8 V167.5 M522.5 142.4 V169.9 M523.5 141.9 V170.2 M524.5 142.6 V166.5 M525.5 142.7 V170.3 M526.5 142.7 V167.3 M527.5 142.2 V169.8 M528.5 133.8 V143.8 M528.5 143.8 V168.4 M529.5 144.5 V173.6 M530.5 142.6 V166.6 M531.5 142.4 V174.1 M532.5 144.1 V172.1 M533.5 142.7 V165.7 M534.5 143.8 V169.8 M535.5 143.6 V168.2 M536.5 144.6 V168.6 M537.5 143.8 V167.7 M538.5 142.5 V169.4 M539.5 143.7 V166.1 M540.5 144.8 V168.9 M540.5 168.9 V177.5 M541.5 143.3 V165.1 M542.5 142.6 V166.4 M543.5 145.4 V167.5 M544.5 143.5 V166.3 M544.5 166.3 V169.2 M545.5 141.2 V168.2 M546.5 143.9 V165.9 M547.5 145.7 V172.8 M548.5 141.6 V173.7 M549.5 142.8 V165.8 M550.5 143.6 V166.2 M551.5 145.6 V170.6 M552.5 141.4 V175.4 M553.5 143.1 V168.4 M554.5 144.3 V167.4 M554.5 167.4 V174.7 M555.5 143.5 V167.5 M555.5 167.5 V177.4 M556.5 146.2 V167.3 M557.5 145.2 V172.0 M558.5 145.8 V170.9 M559.5 142.5 V166.2 M560.5 143.0 V166.8 M561.5 145.0 V172.2 M562.5 144.0 V168.0 M563.5 144.2 V169.5 M564.5 146.0 V173.2 M564.5 173.2 V180.5 M565.5 143.5 V168.0 M566.5 146.2 V165.1 M566.5 165.1 V177.0 M567.5 143.4 V168.7 M567.5 168.7 V179.6 M568.5 143.5 V165.2 M569.5 144.0 V169.4 M569.5 169.4 V177.7 M570.5 144.4 V172.0 M570.5 172.0 V174.9 M571.5 142.4 V168.3 M572.5 144.1 V170.5 M573.5 143.4 V166.5 M574.5 144.8 V172.5 M575.5 144.2 V167.6 M576.5 143.0 V167.0 M577.5 145.0 V165.2 M578.5 144.9 V169.9 M579.5 142.7 V171.4 M580.5 145.8 V168.4 M581.5 142.0 V165.5 M581.5 165.5 V178.1 M582.5 143.7 V166.9 M583.5 144.0 V165.4 M584.5 142.2 V167.5 M585.5 144.1 V165.6 M586.5 143.4 V167.3 M587.5 144.4 V169.7 M588.5 142.5 V168.0 M589.5 141.2 V171.5 M590.5 143.6 V169.1 M591.5 144.4 V174.4 M592.5 144.9 V166.8 M593.5 143.5 V169.7 M594.5 143.1 V165.3 M595.5 144.2 V165.3 M596.5 145.1 V167.5 M597.5 143.7 V165.8 M597.5 165.8 V175.3 M598.5 140.9 V167.7 M599.5 144.4 V166.1 M600.5 144.7 V169.1 M601.5 143.3 V170.0 M601.5 170.0 V173.4 M602.5 143.2 V169.4 M603.5 144.4 V170.2 M604.5 144.1 V171.8 M605.5 142.5 V168.3 M606.5 142.3 V169.0 M607.5 142.7 V178.0 M608.5 143.7 V166.4 M609.5 144.6 V166.7 M610.5 144.2 V167.0 M611.5 144.1 V168.4 M612.5 141.8 V170.9 M613.5 143.4 V172.4 M614.5 143.9 V171.9 M614.5 171.9 V183.5 M615.5 143.7 V170.9 M616.5 142.4 V167.0 M617.5 142.6 V167.7 M618.5 143.3 V168.7 M619.5 142.7 V167.6 M620.5 142.2 V165.0 M621.5 143.1 V165.9 M622.5 144.3 V165.8 M623.5 143.9 V165.1 M624.5 145.3 V168.7 M625.5 142.1 V165.6 M626.5 142.5 V169.7 M627.5 142.8 V169.9 M628.5 142.2 V168.4 M629.5 144.9 V166.2 M630.5 144.6 V165.1 M631.5 144.0 V168.5 M632.5 142.9 V165.2 M633.5 143.6 V171.1 M634.5 143.2 V174.7 M635.5 139.0 V172.6 M636.5 142.8 V173.7 M637.5 140.2 V169.8 M638.5 143.2 V173.4 M639.5 142.2 V172.3 M639.5 172.3 V178.0 M640.5 118.8 V140.7 M640.5 140.7 V172.3 M641.5 141.9 V167.3 M642.5 142.5 V173.8 M643.5 140.6 V165.3 M644.5 143.3 V168.1 M645.5 141.4 V165.8 M645.5 165.8 V171.7 M646.5 144.5 V165.7 M647.5 143.1 V165.9 M648.5 143.0 V167.7 M648.5 167.7 V172.3 M649.5 142.9 V168.5 M650.5 144.3 V167.0 M651.5 143.7 V167.5 M652.5 141.3 V172.9 M653.5 142.6 V165.1 M653.5 165.1 V174.9 M654.5 144.8 V168.5 M654.5 168.5 V177.2 M655.5 143.9 V166.7 M656.5 143.2 V172.7 M657.5 142.6 V166.6 M658.5 142.7 V171.0 M659.5 142.6 V169.1 M659.5 169.1 V174.5 M660.5 144.8 V170.1 M661.5 145.2 V169.2 M662.5 144.2 V167.7 M663.5 142.0 V168.4 M664.5 143.0 V167.1 M665.5 137.6 V143.3 M665.5 143.3 V172.1 M666.5 144.5 V165.9 M667.5 143.3 V168.4 M668.5 143.5 V165.2 M669.5 143.4 V166.3 M670.5 144.4 V166.0 M671.5 144.2 V174.7 M672.5 143.5 V173.5 M673.5 145.2 V167.9 M674.5 124.3 V142.6 M674.5 142.6 V168.6 M675.5 144.1 V166.0 M676.5 143.4 V170.6 M677.5 130.8 V142.6 M677.5 142.6 V165.9 M677.5 165.9 V171.3 M678.5 143.0 V171.5 M679.5 144.5 V166.6 M680.5 144.5 V169.5 M681.5 141.6 V167.3 M682.5 142.4 V167.9 M683.5 144.2 V167.5 M683.5 167.5 V170.1 M684.5 144.1 V171.6 M685.5 143.0 V167.1 M686.5 145.1 V168.6 M687.5 144.6 V168.3 M687.5 168.3 V176.3 M688.5 145.0 V168.1 M689.5 143.0 V167.8 M690.5 144.0 V168.2 M691.5 145.1 V173.5 M692.5 144.5 V171.5 M692.5 171.5 V182.6 M693.5 142.5 V169.2 M694.5 143.5 V166.3 M695.5 144.3 V171.4 M696.5 142.1 V165.2 M696.5 165.2 V173.6 M697.5 143.2 V167.5 M698.5 143.8 V165.7 M698.5 165.7 V175.6 M699.5 144.8 V172.4 M700.5 143.1 V171.5 M701.5 142.8 V169.1 M702.5 144.1 V166.5 M703.5 142.3 V169.4 M704.5 147.0 V169.5 M705.5 144.2 V169.0 M705.5 169.0 V183.4 M706.5 141.2 V167.8 M707.5 117.9 V185.1 M707.5 140.2 V169.4 M708.5 140.5 V167.9 M708.5 167.9 V177.9 M709.5 122.0 V185.7 M709.5 143.8 V170.0 M710.5 141.8 V169.7 M711.5 142.1 V169.0 M711.5 169.0 V179.4 M712.5 138.3 V172.6 M713.5 143.6 V175.6 M714.5 139.7 V174.0 M714.5 174.0 V184.5 M715.5 145.5 V175.9 M716.5 143.0 V167.4 M717.5 141.2 V169.3 M718.5 143.8 V167.5 M719.5 143.5 V177.1 M720.5 127.6 V138.8 M720.5 138.8 V174.6 M721.5 142.9 V172.0 M721.5 172.0 V178.9 M722.5 144.2 V167.9 M723.5 137.1 V169.6 M724.5 140.7 V171.3 M725.5 140.9 V176.6 M726.5 141.4 V168.2 M727.5 142.1 V171.4 M728.5 128.7 V188.6 M728.5 141.6 V170.5 M729.5 141.3 V168.2 M730.5 116.0 V184.1 M730.5 138.4 V172.3 M730.5 172.3 V176.6 M731.5 140.9 V169.4 M732.5 144.6 V168.9 M733.5 142.4 V172.2 M734.5 143.9 V169.2 M734.5 169.2 V177.7 M735.5 142.7 V167.2 M735.5 167.2 V170.5 M736.5 145.1 V172.9 M737.5 140.6 V170.2 M738.5 140.7 V176.6 M739.5 139.1 V168.3 M740.5 127.9 V142.4 M740.5 142.4 V167.8 M741.5 121.9 V141.7 M741.5 141.7 V180.5 M742.5 140.0 V175.9 M743.5 144.6 V170.5 M744.5 141.0 V170.1 M745.5 142.2 V175.6 M745.5 175.6 V185.6 M746.5 141.6 V177.0 M747.5 140.2 V170.8 M748.5 143.6 V177.9 M749.5 125.0 V184.2 M749.5 143.9 V175.0 M750.5 142.5 V167.2 M751.5 118.4 V185.8 M751.5 142.2 V173.3 M751.5 173.3 V182.1 M752.5 141.6 V170.1 M753.5 143.1 V182.3 M753.5 182.3 V186.8 M754.5 140.0 V167.3 M755.5 139.9 V182.9 M756.5 140.5 V171.1 M757.5 140.9 V170.1 M758.5 125.9 V144.1 M758.5 144.1 V174.6 M759.5 142.5 V166.2 M760.5 141.9 V165.4 M761.5 142.1 V169.9 M762.5 142.1 V169.4 M763.5 142.7 V165.9" stroke="#000" stroke-width="1"/><rect x="630" y="143" width="2" height="2.5" fill="#9a2222"/><rect x="514" y="143" width="2" height="2.5" fill="#9a2222"/><rect x="357" y="143" width="2" height="2.5" fill="#2a7a34"/><rect x="539" y="143" width="2" height="2.5" fill="#9a2222"/><rect x="538" y="143" width="2" height="2.5" fill="#2a7a34"/><rect x="402" y="143" width="2" height="2.5" fill="#9a2222"/><rect x="677" y="143" width="2" height="2.5" fill="#9a2222"/><rect x="592" y="143" width="2" height="2.5" fill="#2a7a34"/><rect x="711" y="143" width="2" height="2.5" fill="#2a7a34"/><rect x="310" y="143" width="2" height="2.5" fill="#9a2222"/><rect x="682" y="143" width="2" height="2.5" fill="#2a7a34"/><rect x="348" y="143" width="2" height="2.5" fill="#9a2222"/><rect x="408" y="143" width="2" height="2.5" fill="#9a2222"/><rect x="458" y="143" width="2" height="2.5" fill="#2a7a34"/><rect x="536" y="143" width="2" height="2.5" fill="#9a2222"/><rect x="331" y="143" width="2" height="2.5" fill="#9a2222"/><rect x="760" y="143" width="2" height="2.5" fill="#2a7a34"/><rect x="502" y="143" width="2" height="2.5" fill="#9a2222"/><rect x="666" y="143" width="2" height="2.5" fill="#2a7a34"/><rect x="361" y="143" width="2" height="2.5" fill="#2a7a34"/><rect x="463" y="143" width="2" height="2.5" fill="#9a2222"/><rect x="402" y="143" width="2" height="2.5" fill="#9a2222"/><rect x="450" y="143" width="2" height="2.5" fill="#9a2222"/><rect x="298" y="143" width="2" height="2.5" fill="#9a2222"/><rect x="559" y="143" width="2" height="2.5" fill="#9a2222"/><rect x="374" y="143" width="2" height="2.5" fill="#2a7a34"/><rect x="419" y="143" width="2" height="2.5" fill="#9a2222"/><rect x="404" y="143" width="2" height="2.5" fill="#2a7a34"/><rect x="333" y="143" width="2" height="2.5" fill="#2a7a34"/><rect x="695" y="143" width="2" height="2.5" fill="#9a2222"/><rect x="489" y="143" width="2" height="2.5" fill="#2a7a34"/><rect x="581" y="143" width="2" height="2.5" fill="#9a2222"/><rect x="311" y="143" width="2" height="2.5" fill="#9a2222"/><rect x="463" y="143" width="2" height="2.5" fill="#2a7a34"/><rect x="429" y="143" width="2" height="2.5" fill="#9a2222"/><rect x="595" y="143" width="2" height="2.5" fill="#2a7a34"/><rect x="456" y="143" width="2" height="2.5" fill="#9a2222"/><rect x="563" y="143" width="2" height="2.5" fill="#2a7a34"/><rect x="380" y="143" width="2" height="2.5" fill="#2a7a34"/><rect x="625" y="143" width="2" height="2.5" fill="#9a2222"/><rect x="603" y="143" width="2" height="2.5" fill="#9a2222"/><rect x="323" y="143" width="2" height="2.5" fill="#2a7a34"/><rect x="469" y="143" width="2" height="2.5" fill="#9a2222"/><rect x="524" y="143" width="2" height="2.5" fill="#2a7a34"/><rect x="647" y="143" width="2" height="2.5" fill="#9a2222"/><rect x="569" y="143" width="2" height="2.5" fill="#9a2222"/><rect x="508" y="143" width="2" height="2.5" fill="#2a7a34"/><rect x="485" y="143" width="2" height="2.5" fill="#9a2222"/><rect x="709" y="143" width="2" height="2.5" fill="#9a2222"/><rect x="521" y="143" width="2" height="2.5" fill="#9a2222"/><rect x="678" y="143" width="2" height="2.5" fill="#2a7a34"/><rect x="639" y="143" width="2" height="2.5" fill="#9a2222"/><rect x="309" y="143" width="2" height="2.5" fill="#2a7a34"/><rect x="551" y="143" width="2" height="2.5" fill="#2a7a34"/><rect x="653" y="143" width="2" height="2.5" fill="#9a2222"/><path d="M292.5 122.3 V182.6" stroke="#66c4f4" stroke-width="1.6"/><rect x="291" y="120.8" width="3" height="3" fill="#66c4f4"/><path d="M295.5 122.3 V182.6" stroke="#66c4f4" stroke-width="1.6"/><rect x="294" y="120.8" width="3" height="3" fill="#66c4f4"/><path d="M300.5 122.3 V182.6" stroke="#66c4f4" stroke-width="1.6"/><rect x="299" y="120.8" width="3" height="3" fill="#66c4f4"/><path d="M304.5 122.3 V182.6" stroke="#66c4f4" stroke-width="1.6"/><rect x="303" y="120.8" width="3" height="3" fill="#66c4f4"/><path d="M318.5 122.3 V182.6" stroke="#66c4f4" stroke-width="1.6"/><rect x="317" y="120.8" width="3" height="3" fill="#66c4f4"/><path d="M344.5 122.3 V182.6" stroke="#66c4f4" stroke-width="1.6"/><rect x="343" y="120.8" width="3" height="3" fill="#66c4f4"/><path d="M349.5 122.3 V182.6" stroke="#66c4f4" stroke-width="1.6"/><rect x="348" y="120.8" width="3" height="3" fill="#66c4f4"/><path d="M707.5 122.3 V182.6" stroke="#66c4f4" stroke-width="1.6"/><rect x="706" y="120.8" width="3" height="3" fill="#66c4f4"/><path d="M709.5 122.3 V182.6" stroke="#66c4f4" stroke-width="1.6"/><rect x="708" y="120.8" width="3" height="3" fill="#66c4f4"/><path d="M712.5 122.3 V182.6" stroke="#66c4f4" stroke-width="1.6"/><rect x="711" y="120.8" width="3" height="3" fill="#66c4f4"/><path d="M717.5 122.3 V182.6" stroke="#66c4f4" stroke-width="1.6"/><rect x="716" y="120.8" width="3" height="3" fill="#66c4f4"/><path d="M720.5 122.3 V182.6" stroke="#66c4f4" stroke-width="1.6"/><rect x="719" y="120.8" width="3" height="3" fill="#66c4f4"/><path d="M334.5 122.3 V182.6" stroke="#5a5af0" stroke-width="1.7" opacity="0.9"/><rect x="333" y="120.8" width="3" height="3" fill="#1818c0"/><path d="M381.5 122.3 V182.6" stroke="#5a5af0" stroke-width="1.7" opacity="0.9"/><rect x="380" y="120.8" width="3" height="3" fill="#1818c0"/><path d="M388.5 122.3 V182.6" stroke="#5a5af0" stroke-width="1.7" opacity="0.9"/><rect x="387" y="120.8" width="3" height="3" fill="#1818c0"/><path d="M391.5 122.3 V182.6" stroke="#5a5af0" stroke-width="1.7" opacity="0.9"/><rect x="390" y="120.8" width="3" height="3" fill="#1818c0"/><path d="M409.5 122.3 V182.6" stroke="#5a5af0" stroke-width="1.7" opacity="0.9"/><rect x="408" y="120.8" width="3" height="3" fill="#1818c0"/><path d="M420.5 122.3 V182.6" stroke="#5a5af0" stroke-width="1.7" opacity="0.9"/><rect x="419" y="120.8" width="3" height="3" fill="#1818c0"/><path d="M433.5 122.3 V182.6" stroke="#5a5af0" stroke-width="1.7" opacity="0.9"/><rect x="432" y="120.8" width="3" height="3" fill="#1818c0"/><path d="M473.5 122.3 V182.6" stroke="#5a5af0" stroke-width="1.7" opacity="0.9"/><rect x="472" y="120.8" width="3" height="3" fill="#1818c0"/><path d="M508.5 122.3 V182.6" stroke="#5a5af0" stroke-width="1.7" opacity="0.9"/><rect x="507" y="120.8" width="3" height="3" fill="#1818c0"/><path d="M513.5 122.3 V182.6" stroke="#5a5af0" stroke-width="1.7" opacity="0.9"/><rect x="512" y="120.8" width="3" height="3" fill="#1818c0"/><path d="M636.5 122.3 V182.6" stroke="#5a5af0" stroke-width="1.7" opacity="0.9"/><rect x="635" y="120.8" width="3" height="3" fill="#1818c0"/><path d="M637.5 122.3 V182.6" stroke="#5a5af0" stroke-width="1.7" opacity="0.9"/><rect x="636" y="120.8" width="3" height="3" fill="#1818c0"/><path d="M715.5 122.3 V182.6" stroke="#5a5af0" stroke-width="1.7" opacity="0.9"/><rect x="714" y="120.8" width="3" height="3" fill="#1818c0"/><path d="M724.5 122.3 V182.6" stroke="#5a5af0" stroke-width="1.7" opacity="0.9"/><rect x="723" y="120.8" width="3" height="3" fill="#1818c0"/><path d="M729.5 122.3 V182.6" stroke="#5a5af0" stroke-width="1.7" opacity="0.9"/><rect x="728" y="120.8" width="3" height="3" fill="#1818c0"/><path d="M745.5 122.3 V182.6" stroke="#5a5af0" stroke-width="1.7" opacity="0.9"/><rect x="744" y="120.8" width="3" height="3" fill="#1818c0"/><path d="M749.5 122.3 V182.6" stroke="#5a5af0" stroke-width="1.7" opacity="0.9"/><rect x="748" y="120.8" width="3" height="3" fill="#1818c0"/><rect x="286.5" y="104.5" width="478" height="97.5" fill="none" stroke="#444" stroke-width="1"/><path d="M288.5 202.0 v3 M291.5 202.0 v3 M294.5 202.0 v3 M297.5 202.0 v3 M300.5 202.0 v3 M303.5 202.0 v3 M306.5 202.0 v3 M309.5 202.0 v3 M312.5 202.0 v3 M315.5 202.0 v3 M318.5 202.0 v4.5 M321.5 202.0 v3 M324.5 202.0 v3 M327.5 202.0 v3 M331.5 202.0 v3 M334.5 202.0 v3 M337.5 202.0 v3 M340.5 202.0 v3 M343.5 202.0 v3 M346.5 202.0 v3 M349.5 202.0 v3 M352.5 202.0 v3 M355.5 202.0 v3 M358.5 202.0 v3 M361.5 202.0 v3 M364.5 202.0 v4.5 M367.5 202.0 v3 M370.5 202.0 v3 M373.5 202.0 v3 M377.5 202.0 v3 M380.5 202.0 v3 M383.5 202.0 v3 M386.5 202.0 v3 M389.5 202.0 v3 M392.5 202.0 v3 M395.5 202.0 v3 M398.5 202.0 v3 M401.5 202.0 v3 M404.5 202.0 v3 M407.5 202.0 v3 M410.5 202.0 v4.5 M413.5 202.0 v3 M416.5 202.0 v3 M419.5 202.0 v3 M423.5 202.0 v3 M426.5 202.0 v3 M429.5 202.0 v3 M432.5 202.0 v3 M435.5 202.0 v3 M438.5 202.0 v3 M441.5 202.0 v3 M444.5 202.0 v3 M447.5 202.0 v3 M450.5 202.0 v3 M453.5 202.0 v3 M456.5 202.0 v4.5 M459.5 202.0 v3 M462.5 202.0 v3 M465.5 202.0 v3 M469.5 202.0 v3 M472.5 202.0 v3 M475.5 202.0 v3 M478.5 202.0 v3 M481.5 202.0 v3 M484.5 202.0 v3 M487.5 202.0 v3 M490.5 202.0 v3 M493.5 202.0 v3 M496.5 202.0 v3 M499.5 202.0 v3 M502.5 202.0 v4.5 M505.5 202.0 v3 M508.5 202.0 v3 M511.5 202.0 v3 M515.5 202.0 v3 M518.5 202.0 v3 M521.5 202.0 v3 M524.5 202.0 v3 M527.5 202.0 v3 M530.5 202.0 v3 M533.5 202.0 v3 M536.5 202.0 v3 M539.5 202.0 v3 M542.5 202.0 v3 M545.5 202.0 v3 M548.5 202.0 v4.5 M551.5 202.0 v3 M554.5 202.0 v3 M557.5 202.0 v3 M561.5 202.0 v3 M564.5 202.0 v3 M567.5 202.0 v3 M570.5 202.0 v3 M573.5 202.0 v3 M576.5 202.0 v3 M579.5 202.0 v3 M582.5 202.0 v3 M585.5 202.0 v3 M588.5 202.0 v3 M591.5 202.0 v3 M594.5 202.0 v4.5 M597.5 202.0 v3 M600.5 202.0 v3 M603.5 202.0 v3 M607.5 202.0 v3 M610.5 202.0 v3 M613.5 202.0 v3 M616.5 202.0 v3 M619.5 202.0 v3 M622.5 202.0 v3 M625.5 202.0 v3 M628.5 202.0 v3 M631.5 202.0 v3 M634.5 202.0 v3 M637.5 202.0 v3 M640.5 202.0 v4.5 M643.5 202.0 v3 M646.5 202.0 v3 M649.5 202.0 v3 M653.5 202.0 v3 M656.5 202.0 v3 M659.5 202.0 v3 M662.5 202.0 v3 M665.5 202.0 v3 M668.5 202.0 v3 M671.5 202.0 v3 M674.5 202.0 v3 M677.5 202.0 v3 M680.5 202.0 v3 M683.5 202.0 v3 M686.5 202.0 v4.5 M689.5 202.0 v3 M692.5 202.0 v3 M695.5 202.0 v3 M699.5 202.0 v3 M702.5 202.0 v3 M705.5 202.0 v3 M708.5 202.0 v3 M711.5 202.0 v3 M714.5 202.0 v3 M717.5 202.0 v3 M720.5 202.0 v3 M723.5 202.0 v3 M726.5 202.0 v3 M729.5 202.0 v3 M732.5 202.0 v4.5 M735.5 202.0 v3 M738.5 202.0 v3 M741.5 202.0 v3 M745.5 202.0 v3 M748.5 202.0 v3 M751.5 202.0 v3 M754.5 202.0 v3 M757.5 202.0 v3 M760.5 202.0 v3 M763.5 202.0 v3" stroke="#555" stroke-width="1"/><text x="318.3" y="214.8" text-anchor="middle" font-size="9.3" fill="#333">01:00</text><text x="364.3" y="214.8" text-anchor="middle" font-size="9.3" fill="#333">01:30</text><text x="410.3" y="214.8" text-anchor="middle" font-size="9.3" fill="#333">02:00</text><text x="456.3" y="214.8" text-anchor="middle" font-size="9.3" fill="#333">02:30</text><text x="502.3" y="214.8" text-anchor="middle" font-size="9.3" fill="#333">03:00</text><text x="548.3" y="214.8" text-anchor="middle" font-size="9.3" fill="#333">03:30</text><text x="594.3" y="214.8" text-anchor="middle" font-size="9.3" fill="#333">04:00</text><text x="640.3" y="214.8" text-anchor="middle" font-size="9.3" fill="#333">04:30</text><text x="686.3" y="214.8" text-anchor="middle" font-size="9.3" fill="#333">05:00</text><text x="732.3" y="214.8" text-anchor="middle" font-size="9.3" fill="#333">05:30</text><text transform="translate(238.6,179) rotate(-90)" font-size="10.2" font-weight="bold" fill="#111">Flow Rate</text><rect x="222" y="219" width="553" height="2.6" fill="#a4a4a4"/><text x="764.3" y="234.3" text-anchor="end" font-size="9.6" fill="#222">AHI/Hr</text><rect x="734" y="232.5" width="2" height="2" fill="#70d070"/><path d="M288 329.5 H764 M288 324.5 H764 M288 319.5 H764 M288 310.5 H764 M288 305.5 H764 M288 300.5 H764 M288 290.5 H764 M288 285.5 H764 M288 280.5 H764 M288 271.5 H764 M288 266.5 H764 M288 261.5 H764 M288 251.5 H764 M288 247.5 H764 M288 242.5 H764" stroke="#e6e6e6" stroke-width="1"/><path d="M288 314.5 H764 M288 295.5 H764 M288 276.5 H764 M288 256.5 H764" stroke="#c8c8c8" stroke-width="1"/><path d="M283 334.5 h4 M285 329.5 h2 M285 324.5 h2 M285 319.5 h2 M283 314.5 h4 M285 310.5 h2 M285 305.5 h2 M285 300.5 h2 M283 295.5 h4 M285 290.5 h2 M285 285.5 h2 M285 280.5 h2 M283 276.5 h4 M285 271.5 h2 M285 266.5 h2 M285 261.5 h2 M283 256.5 h4 M285 251.5 h2 M285 247.5 h2 M285 242.5 h2 M283 237.5 h4" stroke="#444" stroke-width="1"/><text x="282" y="337.8" text-anchor="end" font-size="9.4" fill="#333">0.0</text><text x="282" y="318.4" text-anchor="end" font-size="9.4" fill="#333">3.0</text><text x="282" y="299.1" text-anchor="end" font-size="9.4" fill="#333">6.0</text><text x="282" y="279.7" text-anchor="end" font-size="9.4" fill="#333">9.0</text><text x="282" y="260.4" text-anchor="end" font-size="9.4" fill="#333">12.0</text><text x="282" y="241.0" text-anchor="end" font-size="9.4" fill="#333">15.0</text><path d="M288 334.2 L290.5 334.2 L292 327.7 L295 308.4 L300 308.4 L303 301.9 L306 295.5 L317 295.5 L319.5 289.0 L334.5 289.0 L337 282.6 L343.5 282.6 L345.5 276.1 L348.5 276.1 L350.5 269.7 L380 269.7 L382 264.5 L383.5 263.2 L385 266.4 L386.5 272.9 L388 281.3 L391 282.6 L393.5 276.1 L396 283.9 L398 289.0 L408.5 289.0 L410.3 283.9 L412.3 289.0 L419.3 289.0 L421.4 282.6 L426.4 282.6 L429 289.0 L433.5 289.0 L435.5 282.6 L437.5 289.0 L440.6 290.3 L443 295.5 L479.5 295.5 L481.5 300.6 L483.5 301.9 L485.5 308.4 L500.5 308.4 L503 314.8 L507.7 314.8 L510.7 308.4 L513.1 314.8 L515.8 308.4 L524.8 308.4 L527.3 314.8 L564.2 314.8 L567 319.4 L600.4 319.4 L602.5 325.5 L604.7 326.5 L608 331.9 L635.8 331.9 L639 314.8 L706.6 314.8 L709.8 301.9 L713 301.3 L716.2 293.5 L720.5 276.1 L723.8 270.3 L727 263.2 L729 263.2 L731.9 276.1 L744 276.1 L747.4 269.7 L749.5 269.7 L752.7 263.2 L763.5 263.2 L763.8 334.2" stroke="#88e088" stroke-width="1.3" fill="none" stroke-linejoin="round"/><rect x="286.5" y="236.9" width="478" height="97.79999999999998" fill="none" stroke="#444" stroke-width="1"/><path d="M291.5 334.7 v3.5 M295.5 334.7 v3.5 M300.5 334.7 v3.5 M304.5 334.7 v3.5 M309.5 334.7 v3.5 M314.5 334.7 v3.5 M318.5 334.7 v5 M323.5 334.7 v3.5 M327.5 334.7 v3.5 M332.5 334.7 v3.5 M337.5 334.7 v3.5 M341.5 334.7 v3.5 M346.5 334.7 v3.5 M350.5 334.7 v3.5 M355.5 334.7 v3.5 M360.5 334.7 v3.5 M364.5 334.7 v5 M369.5 334.7 v3.5 M373.5 334.7 v3.5 M378.5 334.7 v3.5 M383.5 334.7 v3.5 M387.5 334.7 v3.5 M392.5 334.7 v3.5 M396.5 334.7 v3.5 M401.5 334.7 v3.5 M406.5 334.7 v3.5 M410.5 334.7 v5 M415.5 334.7 v3.5 M419.5 334.7 v3.5 M424.5 334.7 v3.5 M429.5 334.7 v3.5 M433.5 334.7 v3.5 M438.5 334.7 v3.5 M442.5 334.7 v3.5 M447.5 334.7 v3.5 M452.5 334.7 v3.5 M456.5 334.7 v5 M461.5 334.7 v3.5 M465.5 334.7 v3.5 M470.5 334.7 v3.5 M475.5 334.7 v3.5 M479.5 334.7 v3.5 M484.5 334.7 v3.5 M488.5 334.7 v3.5 M493.5 334.7 v3.5 M498.5 334.7 v3.5 M502.5 334.7 v5 M507.5 334.7 v3.5 M511.5 334.7 v3.5 M516.5 334.7 v3.5 M521.5 334.7 v3.5 M525.5 334.7 v3.5 M530.5 334.7 v3.5 M534.5 334.7 v3.5 M539.5 334.7 v3.5 M544.5 334.7 v3.5 M548.5 334.7 v5 M553.5 334.7 v3.5 M557.5 334.7 v3.5 M562.5 334.7 v3.5 M567.5 334.7 v3.5 M571.5 334.7 v3.5 M576.5 334.7 v3.5 M580.5 334.7 v3.5 M585.5 334.7 v3.5 M590.5 334.7 v3.5 M594.5 334.7 v5 M599.5 334.7 v3.5 M603.5 334.7 v3.5 M608.5 334.7 v3.5 M613.5 334.7 v3.5 M617.5 334.7 v3.5 M622.5 334.7 v3.5 M626.5 334.7 v3.5 M631.5 334.7 v3.5 M636.5 334.7 v3.5 M640.5 334.7 v5 M645.5 334.7 v3.5 M649.5 334.7 v3.5 M654.5 334.7 v3.5 M659.5 334.7 v3.5 M663.5 334.7 v3.5 M668.5 334.7 v3.5 M672.5 334.7 v3.5 M677.5 334.7 v3.5 M682.5 334.7 v3.5 M686.5 334.7 v5 M691.5 334.7 v3.5 M695.5 334.7 v3.5 M700.5 334.7 v3.5 M705.5 334.7 v3.5 M709.5 334.7 v3.5 M714.5 334.7 v3.5 M718.5 334.7 v3.5 M723.5 334.7 v3.5 M728.5 334.7 v3.5 M732.5 334.7 v5 M737.5 334.7 v3.5 M741.5 334.7 v3.5 M746.5 334.7 v3.5 M751.5 334.7 v3.5 M755.5 334.7 v3.5 M760.5 334.7 v3.5" stroke="#555" stroke-width="1"/><text x="318.3" y="348" text-anchor="middle" font-size="9.3" fill="#333">01:00</text><text x="364.3" y="348" text-anchor="middle" font-size="9.3" fill="#333">01:30</text><text x="410.3" y="348" text-anchor="middle" font-size="9.3" fill="#333">02:00</text><text x="456.3" y="348" text-anchor="middle" font-size="9.3" fill="#333">02:30</text><text x="502.3" y="348" text-anchor="middle" font-size="9.3" fill="#333">03:00</text><text x="548.3" y="348" text-anchor="middle" font-size="9.3" fill="#333">03:30</text><text x="594.3" y="348" text-anchor="middle" font-size="9.3" fill="#333">04:00</text><text x="640.3" y="348" text-anchor="middle" font-size="9.3" fill="#333">04:30</text><text x="686.3" y="348" text-anchor="middle" font-size="9.3" fill="#333">05:00</text><text x="732.3" y="348" text-anchor="middle" font-size="9.3" fill="#333">05:30</text><text transform="translate(238.6,296.5) rotate(-90)" font-size="10.2" font-weight="bold" fill="#111">AHI</text><rect x="222" y="352" width="553" height="2.6" fill="#a4a4a4"/><text x="765" y="367.2" text-anchor="end" font-size="9.6" fill="#222">Pressure</text><rect x="725" y="365" width="2" height="2" fill="#208020"/><path d="M288 460.5 H764 M288 454.5 H764 M288 448.5 H764 M288 435.5 H764 M288 429.5 H764 M288 423.5 H764 M288 411.5 H764 M288 405.5 H764 M288 399.5 H764 M288 387.5 H764 M288 381.5 H764 M288 375.5 H764" stroke="#e6e6e6" stroke-width="1"/><path d="M288 442.5 H764 M288 417.5 H764 M288 393.5 H764" stroke="#c8c8c8" stroke-width="1"/><path d="M283 466.5 h4 M285 460.5 h2 M285 454.5 h2 M285 448.5 h2 M283 442.5 h4 M285 435.5 h2 M285 429.5 h2 M285 423.5 h2 M283 417.5 h4 M285 411.5 h2 M285 405.5 h2 M285 399.5 h2 M283 393.5 h4 M285 387.5 h2 M285 381.5 h2 M285 375.5 h2 M283 369.5 h4" stroke="#444" stroke-width="1"/><text x="282" y="469.8" text-anchor="end" font-size="9.4" fill="#333">18.00</text><text x="282" y="445.6" text-anchor="end" font-size="9.4" fill="#333">19.00</text><text x="282" y="421.5" text-anchor="end" font-size="9.4" fill="#333">20.00</text><text x="282" y="397.3" text-anchor="end" font-size="9.4" fill="#333">21.00</text><text x="282" y="373.1" text-anchor="end" font-size="9.4" fill="#333">22.00</text><path d="M287 417.9 H764" stroke="#106a10" stroke-width="1.6"/><rect x="286.5" y="369.0" width="478" height="97.69999999999999" fill="none" stroke="#444" stroke-width="1"/><path d="M291.5 466.7 v4 M295.5 466.7 v4 M300.5 466.7 v4 M304.5 466.7 v4 M309.5 466.7 v4 M314.5 466.7 v4 M318.5 466.7 v5.5 M323.5 466.7 v4 M327.5 466.7 v4 M332.5 466.7 v4 M337.5 466.7 v4 M341.5 466.7 v4 M346.5 466.7 v4 M350.5 466.7 v4 M355.5 466.7 v4 M360.5 466.7 v4 M364.5 466.7 v5.5 M369.5 466.7 v4 M373.5 466.7 v4 M378.5 466.7 v4 M383.5 466.7 v4 M387.5 466.7 v4 M392.5 466.7 v4 M396.5 466.7 v4 M401.5 466.7 v4 M406.5 466.7 v4 M410.5 466.7 v5.5 M415.5 466.7 v4 M419.5 466.7 v4 M424.5 466.7 v4 M429.5 466.7 v4 M433.5 466.7 v4 M438.5 466.7 v4 M442.5 466.7 v4 M447.5 466.7 v4 M452.5 466.7 v4 M456.5 466.7 v5.5 M461.5 466.7 v4 M465.5 466.7 v4 M470.5 466.7 v4 M475.5 466.7 v4 M479.5 466.7 v4 M484.5 466.7 v4 M488.5 466.7 v4 M493.5 466.7 v4 M498.5 466.7 v4 M502.5 466.7 v5.5 M507.5 466.7 v4 M511.5 466.7 v4 M516.5 466.7 v4 M521.5 466.7 v4 M525.5 466.7 v4 M530.5 466.7 v4 M534.5 466.7 v4 M539.5 466.7 v4 M544.5 466.7 v4 M548.5 466.7 v5.5 M553.5 466.7 v4 M557.5 466.7 v4 M562.5 466.7 v4 M567.5 466.7 v4 M571.5 466.7 v4 M576.5 466.7 v4 M580.5 466.7 v4 M585.5 466.7 v4 M590.5 466.7 v4 M594.5 466.7 v5.5 M599.5 466.7 v4 M603.5 466.7 v4 M608.5 466.7 v4 M613.5 466.7 v4 M617.5 466.7 v4 M622.5 466.7 v4 M626.5 466.7 v4 M631.5 466.7 v4 M636.5 466.7 v4 M640.5 466.7 v5.5 M645.5 466.7 v4 M649.5 466.7 v4 M654.5 466.7 v4 M659.5 466.7 v4 M663.5 466.7 v4 M668.5 466.7 v4 M672.5 466.7 v4 M677.5 466.7 v4 M682.5 466.7 v4 M686.5 466.7 v5.5 M691.5 466.7 v4 M695.5 466.7 v4 M700.5 466.7 v4 M705.5 466.7 v4 M709.5 466.7 v4 M714.5 466.7 v4 M718.5 466.7 v4 M723.5 466.7 v4 M728.5 466.7 v4 M732.5 466.7 v5.5 M737.5 466.7 v4 M741.5 466.7 v4 M746.5 466.7 v4 M751.5 466.7 v4 M755.5 466.7 v4 M760.5 466.7 v4" stroke="#555" stroke-width="1"/><text x="318.3" y="481" text-anchor="middle" font-size="9.3" fill="#333">01:00</text><text x="364.3" y="481" text-anchor="middle" font-size="9.3" fill="#333">01:30</text><text x="410.3" y="481" text-anchor="middle" font-size="9.3" fill="#333">02:00</text><text x="456.3" y="481" text-anchor="middle" font-size="9.3" fill="#333">02:30</text><text x="502.3" y="481" text-anchor="middle" font-size="9.3" fill="#333">03:00</text><text x="548.3" y="481" text-anchor="middle" font-size="9.3" fill="#333">03:30</text><text x="594.3" y="481" text-anchor="middle" font-size="9.3" fill="#333">04:00</text><text x="640.3" y="481" text-anchor="middle" font-size="9.3" fill="#333">04:30</text><text x="686.3" y="481" text-anchor="middle" font-size="9.3" fill="#333">05:00</text><text x="732.3" y="481" text-anchor="middle" font-size="9.3" fill="#333">05:30</text><text transform="translate(238.6,442.5) rotate(-90)" font-size="10.2" font-weight="bold" fill="#111">Pressure</text><text transform="translate(238.6,50.4) rotate(-90)" font-size="10.2" font-weight="bold" fill="#111">Event Flags</text></svg></div>
<div class="b" style="left:221px;top:475px;width:555px;height:18px;background:#fff"></div>
<div class="t" style="left:229px;top:473.5px;font-size:9.3px;font-weight:normal;color:#222;">100%</div>
<div class="t" style="left:265px;top:473.5px;font-size:9.3px;font-weight:normal;color:#222;">Reset</div>
<svg class="b" style="left:682px;top:479px" width="14" height="9"><path d="M1.5 1.5 H11.5 L6.5 7.5Z" fill="#000"/></svg>
<div class="b" style="left:699px;top:476px;width:86px;height:15px;background:linear-gradient(#f4f4f4,#e2e2e2 50%,#d4d4d4);border:1px solid #8c8e94;border-radius:3px"></div>
<div class="b" style="left:702px;top:482px;width:6px;height:3px;background:#111"></div><div class="b" style="left:708px;top:482px;width:6px;height:3px;background:#2a9a2a"></div>
<div class="t" style="left:717px;top:473.5px;font-size:9.1px;font-weight:normal;color:#222;">Event Flags</div>
<svg class="b" style="left:772px;top:480px" width="9" height="6"><path d="M1 1 H8 L4.5 5Z" fill="#111"/></svg>
</body></html>
